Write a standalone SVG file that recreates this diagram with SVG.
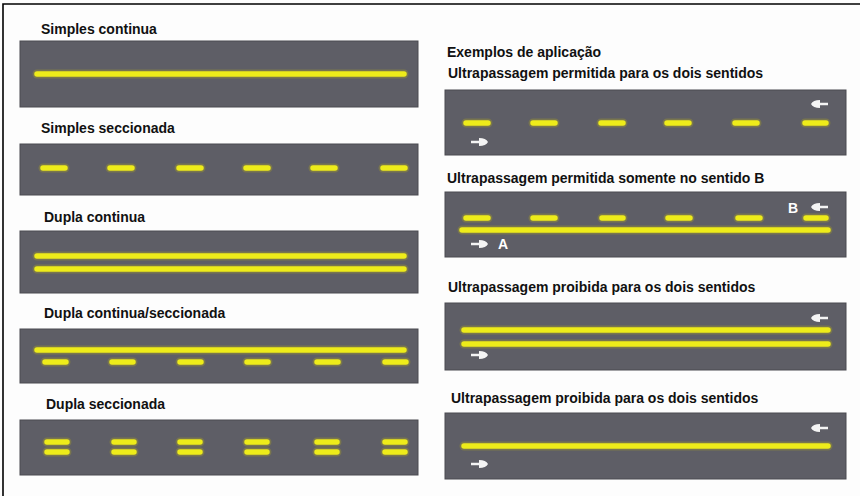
<svg xmlns="http://www.w3.org/2000/svg" xmlns:xlink="http://www.w3.org/1999/xlink" width="860" height="496" viewBox="0 0 860 496">
<defs>
<style>
.road{fill:#5e5e66;stroke:#4a4a50;stroke-width:1}
.ttl{font-family:"Liberation Sans",Arial,sans-serif;font-weight:bold;font-size:14px;fill:#111}
.lbl{font-family:"Liberation Sans",Arial,sans-serif;font-weight:bold;font-size:14px;fill:#fff}
.glow{stroke:#8f8a3a;stroke-width:9;stroke-linecap:round;fill:none;opacity:0.55}
.yl{stroke:#eeec1a;stroke-width:5.5;stroke-linecap:round;fill:none}
.frame{stroke:#000;stroke-width:1.6;fill:none}
</style>
<path id="arr" d="M0,-1.3 H8 V-4 Q15,-4 17,0 Q15,4 8,4 V1.3 H0 Z" fill="#f4f4f4"/>
</defs>
<rect width="860" height="496" fill="#fdfdfd"/>
<path class="frame" d="M3,496 V4 H860"/>

<g id="simples-continua">
<text class="ttl" x="41" y="34">Simples continua</text>
<rect class="road" x="20" y="41" width="398" height="66"/>
<path class="glow" d="M37,74 H404"/>
<path class="yl" d="M37,74 H404"/>
</g>

<g id="simples-seccionada">
<text class="ttl" x="41" y="133">Simples seccionada</text>
<rect class="road" x="20" y="144" width="398" height="51"/>
<path class="glow" d="M43,168 h22 M110,168 h22 M179,168 h22 M246,168 h22 M313,168 h22 M383,168 h22"/>
<path class="yl" d="M43,168 h22 M110,168 h22 M179,168 h22 M246,168 h22 M313,168 h22 M383,168 h22"/>
</g>

<g id="dupla-continua">
<text class="ttl" x="44" y="222">Dupla continua</text>
<rect class="road" x="20" y="231" width="398" height="62"/>
<path class="glow" d="M37,256 H404 M37,269 H404"/>
<path class="yl" d="M37,256 H404 M37,269 H404"/>
</g>

<g id="dupla-continua-seccionada">
<text class="ttl" x="44" y="318">Dupla continua/seccionada</text>
<rect class="road" x="20" y="329" width="398" height="54"/>
<path class="glow" d="M37,350 H404 M45,362 h21 M112,362 h21 M180,362 h21 M247,362 h21 M317,362 h21 M385,362 h21"/>
<path class="yl" d="M37,350 H404 M45,362 h21 M112,362 h21 M180,362 h21 M247,362 h21 M317,362 h21 M385,362 h21"/>
</g>

<g id="dupla-seccionada">
<text class="ttl" x="46" y="409">Dupla seccionada</text>
<rect class="road" x="20" y="420" width="398" height="55"/>
<path class="glow" d="M47,442 h20 M114,442 h20 M180,442 h20 M247,442 h20 M317,442 h20 M385,442 h20 M47,452 h20 M114,452 h20 M180,452 h20 M247,452 h20 M317,452 h20 M385,452 h20"/>
<path class="yl" d="M47,442 h20 M114,442 h20 M180,442 h20 M247,442 h20 M317,442 h20 M385,442 h20 M47,452 h20 M114,452 h20 M180,452 h20 M247,452 h20 M317,452 h20 M385,452 h20"/>
</g>

<g id="exemplos">
<text class="ttl" x="447" y="57">Exemplos de aplicação</text>
</g>

<g id="permitida-dois">
<text class="ttl" x="448" y="78">Ultrapassagem permitida para os dois sentidos</text>
<rect class="road" x="445" y="90" width="401" height="65"/>
<path class="glow" d="M466,123 h22 M533,123 h22 M601,123 h22 M667,123 h22 M735,123 h22 M805,123 h21"/>
<path class="yl" d="M466,123 h22 M533,123 h22 M601,123 h22 M667,123 h22 M735,123 h22 M805,123 h21"/>
<use xlink:href="#arr" transform="translate(828,104) scale(-1,1)"/>
<use xlink:href="#arr" transform="translate(471,142)"/>
</g>

<g id="permitida-b">
<text class="ttl" x="447" y="183">Ultrapassagem permitida somente no sentido B</text>
<rect class="road" x="445" y="192" width="401" height="65"/>
<path class="glow" d="M466,218 h22 M533,218 h22 M602,218 h21 M668,218 h22 M738,218 h22 M806,218 h20 M462,230 H828"/>
<path class="yl" d="M466,218 h22 M533,218 h22 M602,218 h21 M668,218 h22 M738,218 h22 M806,218 h20 M462,230 H828"/>
<use xlink:href="#arr" transform="translate(471,244)"/>
<use xlink:href="#arr" transform="translate(828,207) scale(-1,1)"/>
<text class="lbl" x="498" y="249">A</text>
<text class="lbl" x="788" y="213">B</text>
</g>

<g id="proibida-dupla">
<text class="ttl" x="448" y="292">Ultrapassagem proibida para os dois sentidos</text>
<rect class="road" x="445" y="303" width="401" height="67"/>
<path class="glow" d="M464,330 H828 M464,344 H828"/>
<path class="yl" d="M464,330 H828 M464,344 H828"/>
<use xlink:href="#arr" transform="translate(828,318) scale(-1,1)"/>
<use xlink:href="#arr" transform="translate(471,355)"/>
</g>

<g id="proibida-simples">
<text class="ttl" x="451" y="403">Ultrapassagem proibida para os dois sentidos</text>
<rect class="road" x="445" y="413" width="401" height="66"/>
<path class="glow" d="M464,446 H828"/>
<path class="yl" d="M464,446 H828"/>
<use xlink:href="#arr" transform="translate(828,428) scale(-1,1)"/>
<use xlink:href="#arr" transform="translate(471,464)"/>
</g>
</svg>
